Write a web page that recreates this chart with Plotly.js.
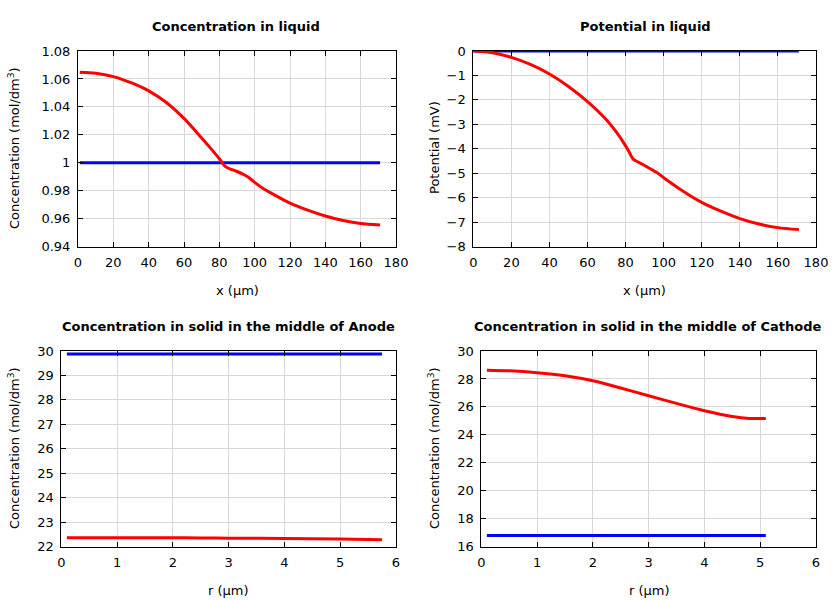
<!DOCTYPE html>
<html><head><meta charset="utf-8">
<script src="https://cdn.plot.ly/plotly-3.0.1.min.js"></script>
<style>html,body{margin:0;padding:0;background:#fff}</style>
</head><body><div id="plot" style="width:840px;height:600px"></div>
<script>
// Concentration in liquid
const liqX = [1,10,20,30,40,50,60,70,75,80,82,83,84,86,90,94,96,98,100,105,110,120,130,140,150,160,171];
const liqRed = [1.0648,1.0641,1.0617,1.0573,1.0515,1.0432,1.0318,1.0178,1.0105,1.0029,0.9995,0.9978,0.9968,0.9957,0.9938,0.9915,0.9900,0.9881,0.9860,0.9815,0.9779,0.9712,0.9662,0.9620,0.9588,0.9566,0.9556];
const liqBlueX = [1,171];
const liqBlue = [1,1];
// Potential in liquid
const potX = [0,10,20,30,40,50,60,70,75,80,82,83,84,86,90,94,96,97,98,100,110,120,130,140,150,160,171];
const potRed = [0,-0.07,-0.26,-0.55,-0.94,-1.45,-2.07,-2.82,-3.3,-3.88,-4.15,-4.3,-4.42,-4.52,-4.68,-4.86,-4.95,-5.0,-5.06,-5.18,-5.72,-6.19,-6.55,-6.85,-7.07,-7.22,-7.30];
const potBlueX = [0,171];
const potBlue = [0,0];
// Anode solid
const anX = [0.1,1,2,2.5,3,4,5,5.75];
const anRed = [22.37,22.37,22.37,22.36,22.35,22.34,22.31,22.28];
const anBlueX = [0.1,5.75];
const anBlue = [29.88,29.88];
// Cathode solid
const caX = [0.1,0.5,1,1.5,2,2.5,3,3.5,4,4.5,4.8,5.1];
const caRed = [28.62,28.58,28.45,28.23,27.87,27.35,26.80,26.25,25.73,25.32,25.18,25.18];
const caBlueX = [0.1,5.1];
const caBlue = [16.8,16.8];

const titles = ["Concentration in liquid","Potential in liquid","Concentration in solid in the middle of Anode","Concentration in solid in the middle of Cathode"];
const xTitles = ["x (µm)","x (µm)","r (µm)","r (µm)"];
const yTitles = ["Concentration (mol/dm<sup>3</sup>)","Potential (mV)","Concentration (mol/dm<sup>3</sup>)","Concentration (mol/dm<sup>3</sup>)"];

const W=840,H=600;
const FONT = "DejaVu Sans, sans-serif";
const RED="#ff0000", BLUE="#0000ff";
function ln(x,y,c,i){return {x:x,y:y,mode:'lines',line:{color:c,width:3,shape:'spline',smoothing:0.8},xaxis:'x'+(i||''),yaxis:'y'+(i||''),showlegend:false,hoverinfo:'skip'};}
const data=[
  ln(liqBlueX,liqBlue,BLUE,''), ln(liqX,liqRed,RED,''),
  ln(potBlueX,potBlue,BLUE,2), ln(potX,potRed,RED,2),
  ln(anBlueX,anBlue,BLUE,3), ln(anX,anRed,RED,3),
  ln(caBlueX,caBlue,BLUE,4), ln(caX,caRed,RED,4)
];
// plot boxes in px [left,right,top,bottom]
const boxes=[[78,396,51,246.7],[473.3,816,51,246.7],[61.3,396,351,546.7],[481.3,816,351,546.7]];
const xr=[[0,180],[0,180],[0,6],[0,6]];
const yr=[[0.94,1.08],[-8,0],[22,30],[16,30]];
const xd=[20,20,1,1];
const yd=[0.02,1,1,2];
function ax(dom,range,dtick,anchor,isY){
  return {domain:dom,range:range,dtick:dtick,tick0:0,anchor:anchor,
    showline:true,linecolor:'#000',linewidth:1,mirror:'allticks',
    ticks:'inside',ticklen:5,tickwidth:1,tickcolor:'#000',
    showgrid:true,gridcolor:'#d8d8d8',gridwidth:1,zeroline:false,
    tickfont:{family:FONT,size:13,color:'#000'},
    ticklabelstandoff: 4,
    fixedrange:true};
}
const layout={width:W,height:H,margin:{l:0,r:0,t:0,b:0},paper_bgcolor:'#fff',plot_bgcolor:'#fff',
  font:{family:FONT,size:13,color:'#000'},annotations:[]};
const tPos=[[236,26],[645,26],[229,326],[648,326]];
const xtPos=[[237,290],[644,290],[229,590],[649,590]];
const ytPos=[[14,148],[434,148],[14,448],[434,448]];
for(let i=0;i<4;i++){
  const b=boxes[i];
  const s=i===0?'':(i+1);
  layout['xaxis'+s]=ax([b[0]/W,b[1]/W],xr[i],xd[i],'y'+s,false);
  layout['yaxis'+s]=ax([1-b[3]/H,1-b[2]/H],yr[i],yd[i],'x'+s,true);
  layout.annotations.push({text:'<b>'+titles[i]+'</b>',xref:'paper',yref:'paper',x:tPos[i][0]/W,y:1-tPos[i][1]/H,xanchor:'center',yanchor:'middle',showarrow:false,font:{family:FONT,size:13,color:'#000'}});
  layout.annotations.push({text:xTitles[i],xref:'paper',yref:'paper',x:xtPos[i][0]/W,y:1-xtPos[i][1]/H,xanchor:'center',yanchor:'middle',showarrow:false,font:{family:FONT,size:13,color:'#000'}});
  layout.annotations.push({text:yTitles[i],xref:'paper',yref:'paper',x:ytPos[i][0]/W,y:1-ytPos[i][1]/H,xanchor:'center',yanchor:'middle',textangle:-90,showarrow:false,font:{family:FONT,size:13,color:'#000'}});
}
Plotly.newPlot('plot',data,layout,{staticPlot:true,displayModeBar:false});
</script></body></html>
